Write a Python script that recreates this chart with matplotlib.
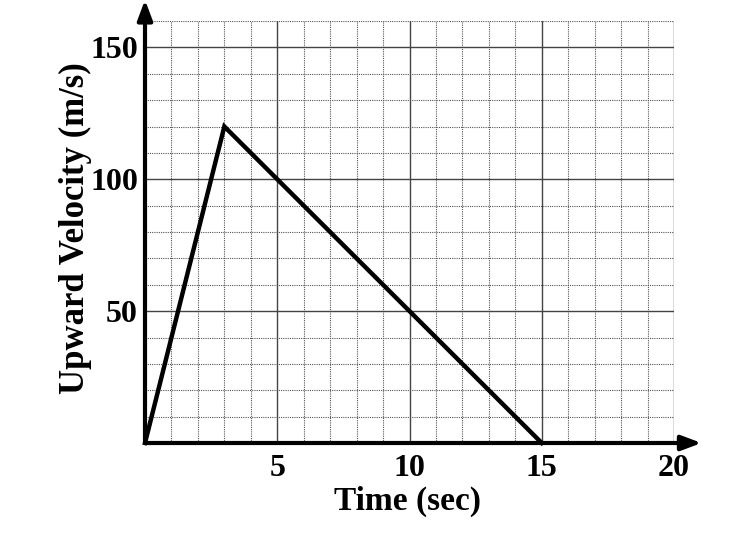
import matplotlib
matplotlib.use("Agg")
import matplotlib.pyplot as plt
import numpy as np

time_s = [0, 3, 15]
velocity = [0, 120, 0]
x_ticks = [5, 10, 15, 20]
y_ticks = [50, 100, 150]

plt.rcParams['font.family'] = ['Liberation Serif', 'DejaVu Serif']
plt.rcParams['font.weight'] = 'bold'

fig = plt.figure(figsize=(7.34, 5.38), dpi=100)
ax = fig.add_axes([145/734, 95/538, 529/734, 422/538])
ax.set_xlim(0, 20)
ax.set_ylim(0, 160)

ax.set_xticks(x_ticks)
ax.set_yticks(y_ticks)
ax.set_xticks(np.arange(0, 21, 1), minor=True)
ax.set_yticks(np.arange(0, 161, 10), minor=True)
ax.set_xticklabels([str(t) for t in x_ticks])
ax.set_yticklabels([str(t) for t in y_ticks])
ax.tick_params(which='both', length=0)
ax.tick_params(axis='x', pad=8, labelsize=23)
ax.tick_params(axis='y', pad=5, labelsize=23)

ax.grid(which='minor', color='#555555', linestyle=(0, (1, 1)), linewidth=0.8)
ax.grid(which='major', color='#444444', linestyle='-', linewidth=1.0)
ax.set_axisbelow(True)

for s in ax.spines.values():
    s.set_visible(False)

ax.plot(time_s, velocity, color='black', linewidth=3.2, solid_joinstyle='miter', zorder=3, clip_on=False)

ax.annotate('', xy=(1.052, 0), xytext=(0, 0), xycoords='axes fraction',
            arrowprops=dict(arrowstyle='-|>,head_length=1.2,head_width=0.45', lw=3, color='black',
                            shrinkA=0, shrinkB=0), annotation_clip=False, zorder=4)
ax.annotate('', xy=(0, 1.05), xytext=(0, 0), xycoords='axes fraction',
            arrowprops=dict(arrowstyle='-|>,head_length=1.2,head_width=0.45', lw=3, color='black',
                            shrinkA=0, shrinkB=0), annotation_clip=False, zorder=4)

fig.text(407/734, 1 - 501/538, 'Time (sec)', fontsize=24, fontweight='bold',
         ha='center', va='center')
fig.text(75/734, 1 - 228/538, 'Upward Velocity (m/s)', fontsize=25, fontweight='bold',
         ha='center', va='center', rotation=90)

fig.savefig('out.png', dpi=100)
